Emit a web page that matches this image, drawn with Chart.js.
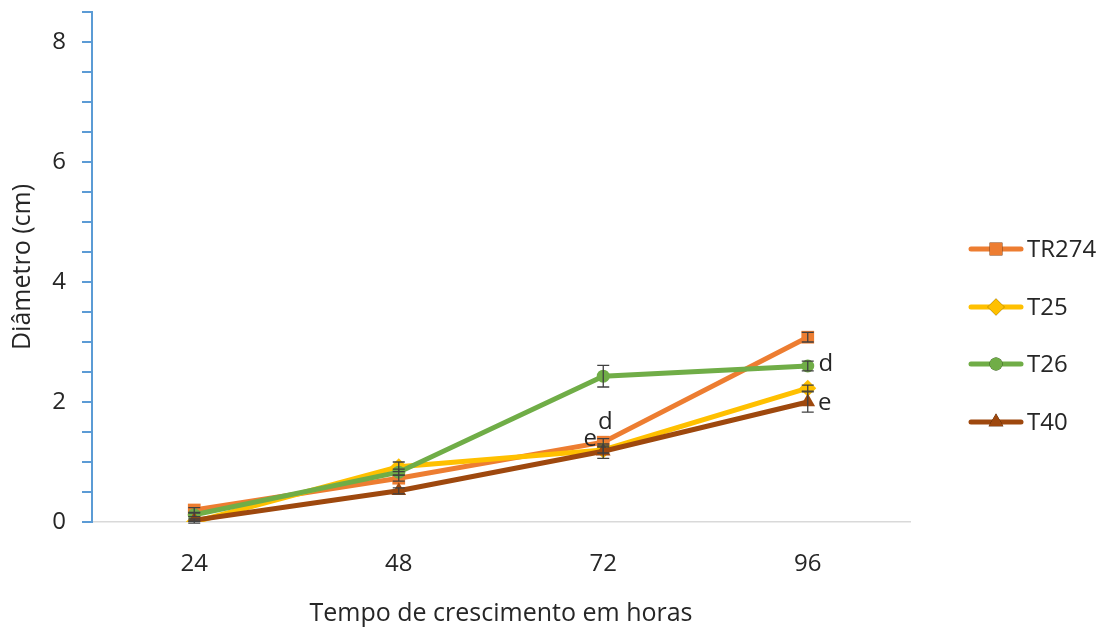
<!DOCTYPE html>
<html>
<head>
<meta charset="utf-8">
<script src="https://cdn.jsdelivr.net/npm/chart.js"></script>
<style>
  html, body { margin: 0; padding: 0; background: #fff; }
  #wrap { position: relative; width: 1116px; height: 633px; }
  #legend { position: absolute; left: 968px; top: 230px; font-family: "Open Sans", sans-serif; font-size: 24px; color: #262626; }
  #legend div { height: 57.5px; display: flex; align-items: flex-start; line-height: 36px; }
  #legend canvas { margin-top: 10px; margin-right: 3px; }
</style>
</head>
<body>
<div id="wrap">
  <canvas id="myChart" width="1116" height="633"></canvas>
  <div id="legend"></div>
</div>
<script>
// categories (hours)
var hours = ['24', '48', '72', '96'];

// series values (cm)
var tr274 = [0.20, 0.73, 1.33, 3.08];
var t25 = [0.00, 0.92, 1.20, 2.23];
var t26 = [0.12, 0.83, 2.43, 2.60];
var t40 = [0.03, 0.52, 1.18, 2.00];

// error bars (+/-)
var tr274Err = [0.04, 0.05, 0.06, 0.08];
var t25Err = [0.02, 0.08, 0.05, 0.05];
var t26Err = [0.03, 0.05, 0.18, 0.08];
var t40Err = [0.02, 0.05, 0.12, 0.17];

var seriesNames = ['TR274', 'T25', 'T26', 'T40'];
var yTickLabels = [0, 2, 4, 6, 8];

// letters written next to points: [series, index, letter]
var letters = [
  [1, 2, 'e'],
  [0, 2, 'd'],
  [2, 3, 'd'],
  [3, 3, 'e']
];
var letterOffsets = [[-13, -11], [2, -20], [18, -2], [17, 1]];

var colors = ['#ED7D31', '#FFC000', '#70AD47', '#9E480E'];
var markers = ['rect', 'rectRot', 'circle', 'triangle'];
var radii = [9, 8.5, 6.5, 8.5];
var allData = [tr274, t25, t26, t40];
var allErr = [tr274Err, t25Err, t26Err, t40Err];
var textColor = '#262626';
var font = { family: 'Open Sans', size: 24 };
var titleFont = { family: 'Open Sans', size: 25 };

const ctx = document.getElementById('myChart');

var errorBars = {
  id: 'errorBars',
  afterDatasetsDraw: function(chart) {
    var c = chart.ctx;
    var y = chart.scales.y;
    c.save();
    c.strokeStyle = '#404040';
    c.lineWidth = 1.3;
    chart.data.datasets.forEach(function(ds, i) {
      var meta = chart.getDatasetMeta(i);
      meta.data.forEach(function(pt, j) {
        var e = allErr[i][j];
        var top = y.getPixelForValue(ds.data[j] + e);
        var bot = y.getPixelForValue(ds.data[j] - e);
        c.beginPath();
        c.moveTo(pt.x, top); c.lineTo(pt.x, bot);
        c.moveTo(pt.x - 6, top); c.lineTo(pt.x + 6, top);
        c.moveTo(pt.x - 6, bot); c.lineTo(pt.x + 6, bot);
        c.stroke();
      });
    });
    c.fillStyle = textColor;
    c.font = '24px "Open Sans", sans-serif';
    c.textAlign = 'center';
    c.textBaseline = 'middle';
    letters.forEach(function(l, k) {
      var pt = chart.getDatasetMeta(l[0]).data[l[1]];
      c.fillText(l[2], pt.x + letterOffsets[k][0], pt.y + letterOffsets[k][1]);
    });
    c.restore();
  }
};

var datasets = seriesNames.map(function(name, i) {
  return {
    label: name,
    data: allData[i],
    borderColor: colors[i],
    backgroundColor: colors[i],
    borderWidth: 5,
    pointStyle: markers[i],
    pointRadius: radii[i],
    pointBorderWidth: 0,
    tension: 0,
    order: 4 - i
  };
});

new Chart(ctx, {
  type: 'line',
  data: { labels: hours, datasets: datasets },
  options: {
    responsive: false,
    animation: false,
    layout: { padding: { left: 0, right: 206, top: 12, bottom: 0 } },
    plugins: { legend: { display: false }, tooltip: { enabled: false } },
    scales: {
      x: {
        offset: true,
        grid: { display: false, drawTicks: false },
        border: { color: '#D9D9D9', width: 1.5 },
        ticks: { padding: 28, color: textColor, font: font },
        title: { display: true, text: 'Tempo de crescimento em horas', color: textColor,
                 font: titleFont, padding: { top: 4, bottom: 4 } },
        afterFit: function(s) { s.height = 111; }
      },
      y: {
        min: 0, max: 8.5,
        ticks: {
          stepSize: 0.5,
          padding: 16,
          color: textColor,
          font: font,
          autoSkip: false,
          callback: function(v) { return yTickLabels.indexOf(v) >= 0 ? v : ''; }
        },
        grid: { drawOnChartArea: false, drawTicks: true, tickLength: 10, color: '#5B9BD5', lineWidth: 2 },
        border: { color: '#5B9BD5', width: 2 },
        title: { display: true, text: 'Diâmetro (cm)', color: textColor,
                 font: titleFont, padding: { top: 8, bottom: 4 } },
        afterFit: function(s) { s.width = 92; s.paddingTop = 0; s.paddingBottom = 0; }
      }
    }
  },
  plugins: [errorBars]
});

// legend
var legend = document.getElementById('legend');
seriesNames.forEach(function(name, i) {
  var row = document.createElement('div');
  var ic = document.createElement('canvas');
  ic.width = 56; ic.height = 18;
  var g = ic.getContext('2d');
  g.strokeStyle = colors[i]; g.lineWidth = 5; g.lineCap = 'round';
  g.beginPath(); g.moveTo(3, 9); g.lineTo(53, 9); g.stroke();
  Chart.helpers.drawPoint(g, { pointStyle: markers[i], radius: radii[i], borderWidth: 0 }, 28, 9);
  g.fillStyle = colors[i]; g.fill();
  row.appendChild(ic);
  var sp = document.createElement('span');
  sp.textContent = name;
  row.appendChild(sp);
  legend.appendChild(row);
});
</script>
</body>
</html>
